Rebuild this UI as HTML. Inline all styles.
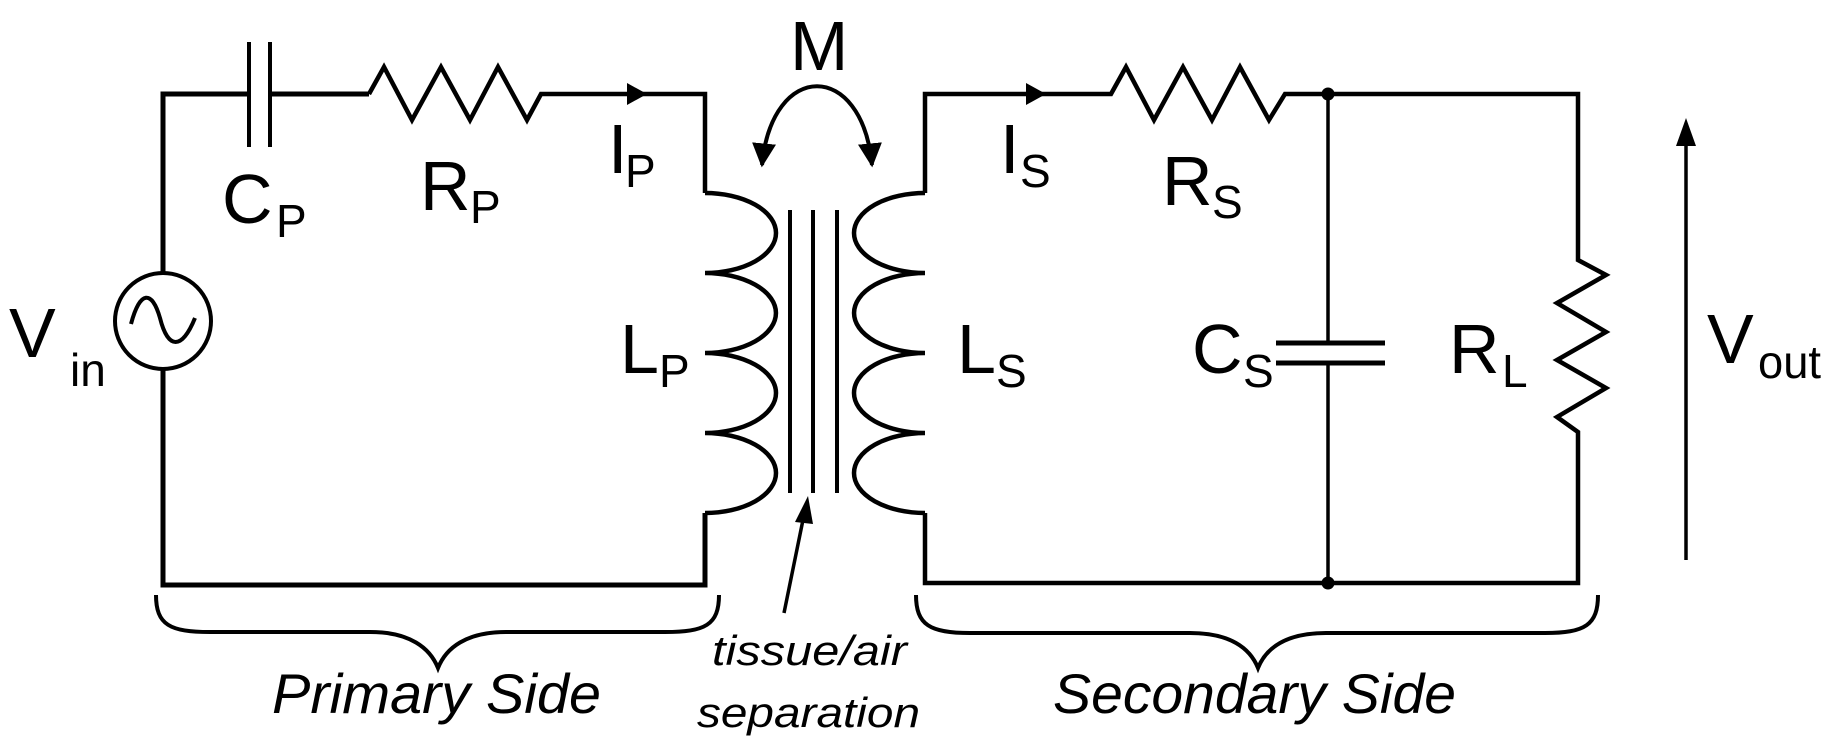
<!DOCTYPE html>
<html><head><meta charset="utf-8"><style>html,body{margin:0;padding:0;background:#fff}svg{display:block}</style></head><body>
<svg width="1832" height="749" viewBox="0 0 1832 749" xmlns="http://www.w3.org/2000/svg" font-family="Liberation Sans, Arial, sans-serif">
<defs>
<marker id="ah" viewBox="0 0 10 10" refX="9" refY="5" markerWidth="7" markerHeight="7" markerUnits="userSpaceOnUse" orient="auto"><path d="M0,0 L10,5 L0,10 z" fill="#000"/></marker>
<marker id="ah2" viewBox="0 0 10 10" refX="9" refY="5" markerWidth="6" markerHeight="6" orient="auto-start-reverse"><path d="M0,0 L10,5 L0,10 z" fill="#000"/></marker>
</defs>
<g fill="none" stroke="#000" stroke-width="5" stroke-linejoin="miter">
<!-- primary -->
<path d="M163,273 V94 H249 M270,94 H369"/>
<path d="M249,42 V147 M270,42 V147" stroke-width="4"/>
<path d="M369,94 L384,67 L412,120 L441,67 L470,120 L498,67 L527,120 L541,94 H705 V193" stroke-width="4.5"/>
<path d="M163,369 V585 H705 V513"/>
<circle cx="163" cy="321" r="48" stroke-width="4"/>
<path d="M131,324 C140,290 152,290 160,318 C168,350 182,350 195,318" stroke-width="4"/>
<!-- primary coil -->
<path d="M705,193 A71,40 0 0 1 705,273 A71,40 0 0 1 705,353 A71,40 0 0 1 705,433 A71,40 0 0 1 705,513" stroke-width="4.5"/>
<!-- core -->
<path d="M790,210 V493 M813,210 V493 M837,210 V493" stroke-width="4"/>
<!-- secondary coil -->
<path d="M925,193 A71,40 0 0 0 925,273 A71,40 0 0 0 925,353 A71,40 0 0 0 925,433 A71,40 0 0 0 925,513" stroke-width="4.5"/>
<path d="M925,193 V94 H1111 L1126,67 L1154,120 L1183,67 L1212,120 L1240,67 L1269,120 L1285,94 H1578 V260 L1606,275 L1557,303 L1606,332 L1557,360 L1606,388 L1557,417 L1578,432 V583 H925 V513" stroke-width="4.5"/>
<path d="M1328,94 V343 M1328,363 V583" stroke-width="3.5"/>
<path d="M1276,343 H1385 M1276,363 H1385" stroke-width="5"/>
<!-- Vout arrow -->
<path d="M1686,560 V130" stroke-width="3.5"/>
<!-- M arc -->
<path d="M762,165 C772,60 862,60 872,165" stroke-width="4" marker-start="url(#ah2)" marker-end="url(#ah2)"/>
<!-- tissue arrow -->
<path d="M784,613 L805,510" stroke-width="3.5"/>
<!-- braces -->
<path d="M156,595 C156,625 170,632 210,632 L370,632 C410,632 430,648 438,668 C446,648 466,632 506,632 L665,632 C705,632 719,625 719,595" stroke-width="4"/>
<path d="M916,595 C916,625 930,633 970,633 L1190,633 C1230,633 1250,648 1258,668 C1266,648 1286,633 1326,633 L1545,633 C1585,633 1598,625 1598,595" stroke-width="4"/>
</g>
<!-- arrowheads -->
<polygon points="627,83 647,94 627,105" fill="#000"/>
<polygon points="1026,83 1046,94 1026,105" fill="#000"/>
<polygon points="1686,118 1676,146 1696,146" fill="#000"/>
<polygon points="808,496 795,522 813,524" fill="#000"/>
<circle cx="1328" cy="94" r="6.5" fill="#000"/>
<circle cx="1328" cy="583" r="6.5" fill="#000"/>
<g fill="#000" font-size="70">
<text x="9" y="357">V</text><text x="70" y="386" font-size="46">in</text>
<text x="222" y="223">C</text><text x="276" y="237" font-size="46">P</text>
<text x="420" y="210">R</text><text x="470" y="223" font-size="46">P</text>
<text x="608" y="173">I</text><text x="625" y="187" font-size="46">P</text>
<text x="620" y="373">L</text><text x="659" y="387" font-size="46">P</text>
<text x="790" y="70">M</text>
<text x="1000" y="173">I</text><text x="1020" y="187" font-size="46">S</text>
<text x="1162" y="205">R</text><text x="1212" y="218" font-size="46">S</text>
<text x="957" y="373">L</text><text x="996" y="387" font-size="46">S</text>
<text x="1192" y="373">C</text><text x="1243" y="387" font-size="46">S</text>
<text x="1449" y="373">R</text><text x="1502" y="387" font-size="46">L</text>
<text x="1707" y="363">V</text><text x="1758" y="378" font-size="46" textLength="63" lengthAdjust="spacingAndGlyphs">out</text>
</g>
<g fill="#000" font-style="italic">
<text x="272" y="713" font-size="56" textLength="329" lengthAdjust="spacingAndGlyphs">Primary Side</text>
<text x="1053" y="713" font-size="56" textLength="403" lengthAdjust="spacingAndGlyphs">Secondary Side</text>
<text x="712" y="665" font-size="42" textLength="195" lengthAdjust="spacingAndGlyphs">tissue/air</text>
<text x="697" y="727" font-size="42" textLength="223" lengthAdjust="spacingAndGlyphs">separation</text>
</g>
</svg>
</body></html>
